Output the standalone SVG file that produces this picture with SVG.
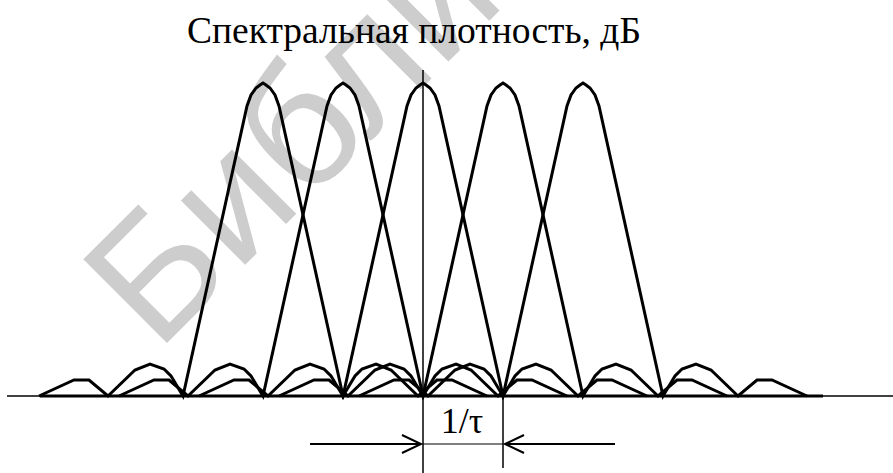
<svg xmlns="http://www.w3.org/2000/svg" xmlns:xlink="http://www.w3.org/1999/xlink" width="893" height="473" viewBox="0 0 893 473">
<style>
.curve{fill:none;stroke:#000;stroke-width:3;stroke-linejoin:miter}
.thin{fill:none;stroke:#000;stroke-width:1.5}
.arr{fill:none;stroke:#000;stroke-width:2}
.wm{fill:#cdcdcd;font-family:"Liberation Sans",Arial,sans-serif}
.t{fill:#000;font-family:"Liberation Serif","Times New Roman",serif}
</style>
<defs>
<path id="lobe" class="curve" d="M-224,396 L-189,380 L-174,380 L-155,396 L-128,370 L-113,364 L-99,369 L-92,376 L-80,396 L-16,106 L-12,95 L-7,88 L-3,85 L0,83 L3,85 L7,88 L12,95 L16,106 L80,396 L92,376 L99,369 L113,364 L128,370 L155,396 L174,380 L189,380 L224,396"/>
</defs>
<rect width="893" height="473" fill="#fff"/>
<text id="watermark" class="wm" x="0" y="0" font-size="172" transform="translate(157,353) rotate(-45)">Библи</text>
<g id="title"><text class="t" x="187" y="43" font-size="37.5" textLength="454" lengthAdjust="spacingAndGlyphs">Спектральная плотность, дБ</text></g>
<g id="axes">
<line class="thin" x1="7" y1="396" x2="893" y2="396"/>
<line x1="40" y1="396" x2="823" y2="396" stroke="#000" stroke-width="3"/>
<line class="thin" x1="423" y1="70" x2="423" y2="473"/>
</g>
<g id="curves">
<use xlink:href="#lobe" x="263"/>
<use xlink:href="#lobe" x="343"/>
<use xlink:href="#lobe" x="423"/>
<use xlink:href="#lobe" x="503"/>
<use xlink:href="#lobe" x="583"/>
</g>
<g id="dimension">
<line class="thin" x1="503" y1="396" x2="503" y2="468"/>
<line x1="423" y1="444" x2="503" y2="444" stroke="#000" stroke-width="1"/>
<path class="arr" d="M310,444 H421 M402,435 L421,444 L402,453"/>
<path class="arr" d="M615,444 H505 M524,435 L505,444 L524,453"/>
<text class="t" x="462" y="433" font-size="36" text-anchor="middle">1/τ</text>
</g>
</svg>
